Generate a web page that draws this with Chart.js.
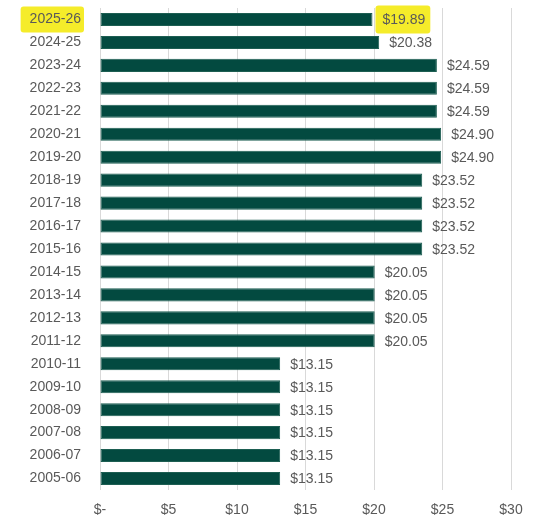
<!DOCTYPE html>
<html lang="en">
<head>
    <meta charset="UTF-8">
    <title>Fee history</title>
    <script src="https://cdn.jsdelivr.net/npm/chart.js"></script>
    <style>
        body {
            margin: 0;
            padding: 0;
            background-color: #fff;
        }
        canvas {
            display: block;
        }
    </style>
</head>
<body>
    <canvas id="feeChart" width="535" height="518"></canvas>
    <script>
        // years, newest first (top of chart)
        var years = ['2025-26', '2024-25', '2023-24', '2022-23', '2021-22', '2020-21', '2019-20',
            '2018-19', '2017-18', '2016-17', '2015-16', '2014-15', '2013-14', '2012-13', '2011-12',
            '2010-11', '2009-10', '2008-09', '2007-08', '2006-07', '2005-06'];
        var fees = [19.89, 20.38, 24.59, 24.59, 24.59, 24.90, 24.90,
            23.52, 23.52, 23.52, 23.52, 20.05, 20.05, 20.05, 20.05,
            13.15, 13.15, 13.15, 13.15, 13.15, 13.15];
        var xTicks = [0, 5, 10, 15, 20, 25, 30];
        var highlightIndex = 0;

        var FAMILY = '"Liberation Sans", Arial, sans-serif';
        var FONT = '14px ' + FAMILY;
        var TEXT = '#595959';
        var YELLOW = '#f5ec2a';

        function money(v) {
            return v === 0 ? '$-' : '$' + v;
        }

        // yellow marker behind the highlighted year and its value label
        var highlighter = {
            id: 'highlighter',
            beforeDraw: function (chart) {
                var ctx = chart.ctx;
                var ys = chart.scales.y;
                var bar = chart.getDatasetMeta(0).data[highlightIndex];
                var cy = ys.getPixelForValue(highlightIndex);
                ctx.save();
                ctx.font = FONT;
                ctx.fillStyle = YELLOW;
                var tw = ctx.measureText(years[highlightIndex]).width;
                var right = ys.right - 19;
                ctx.beginPath();
                ctx.roundRect(right - tw - 9, cy - 13, tw + 12, 26, 3);
                ctx.fill();
                var lw = ctx.measureText('$' + fees[highlightIndex].toFixed(2)).width;
                ctx.beginPath();
                ctx.roundRect(bar.x + 3, cy - 14, lw + 12, 28, 3);
                ctx.fill();
                ctx.restore();
            }
        };

        // value labels at the end of each bar
        var valueLabels = {
            id: 'valueLabels',
            afterDatasetsDraw: function (chart) {
                var ctx = chart.ctx;
                var meta = chart.getDatasetMeta(0);
                ctx.save();
                ctx.font = FONT;
                ctx.fillStyle = TEXT;
                ctx.textAlign = 'left';
                ctx.textBaseline = 'middle';
                meta.data.forEach(function (bar, i) {
                    ctx.fillText('$' + fees[i].toFixed(2), bar.x + 10, bar.y + 1);
                });
                ctx.restore();
            }
        };

        var ctx = document.getElementById('feeChart').getContext('2d');
        var feeChart = new Chart(ctx, {
            type: 'bar',
            data: {
                labels: years,
                datasets: [{
                    data: fees,
                    backgroundColor: '#034a40',
                    borderColor: '#1d5e52',
                    borderWidth: 1,
                    borderSkipped: false,
                    barPercentage: 0.57,
                    categoryPercentage: 1
                }]
            },
            options: {
                responsive: false,
                indexAxis: 'y',
                animation: false,
                layout: {
                    padding: { top: 8, right: 24, bottom: 0, left: 0 }
                },
                plugins: {
                    legend: { display: false },
                    tooltip: { enabled: false }
                },
                scales: {
                    x: {
                        min: 0,
                        max: 30,
                        afterBuildTicks: function (axis) {
                            axis.ticks = xTicks.map(function (v) { return { value: v }; });
                        },
                        afterFit: function (axis) { axis.height = 28; },
                        grid: { color: '#d9d9d9', drawTicks: false },
                        border: { display: false },
                        ticks: {
                            padding: 12,
                            color: TEXT,
                            font: { family: FAMILY, size: 14 },
                            callback: function (v) { return money(v); }
                        }
                    },
                    y: {
                        grid: { display: false, drawTicks: false },
                        border: { display: false },
                        afterFit: function (axis) {
                            axis.width = 100;
                            axis.paddingTop = 0;
                            axis.paddingBottom = 0;
                        },
                        ticks: {
                            padding: 19,
                            color: TEXT,
                            font: { family: FAMILY, size: 14 }
                        }
                    }
                }
            },
            plugins: [highlighter, valueLabels]
        });
    </script>
</body>
</html>
